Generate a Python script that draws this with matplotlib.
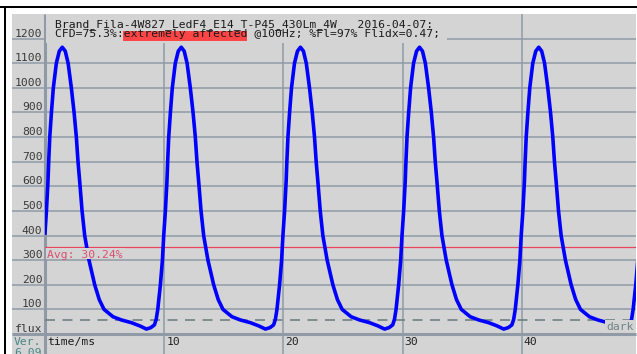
import matplotlib
matplotlib.use("Agg")
import matplotlib.pyplot as plt
from matplotlib.patches import Rectangle
from matplotlib.transforms import blended_transform_factory, offset_copy

# ---------------- data ----------------
time_ms = [
    0.00, 0.12, 0.25, 0.31, 0.40, 0.54, 0.70, 0.95, 1.20,
    1.45, 1.70, 1.94, 2.21, 2.44, 2.63, 2.77, 2.91, 3.11, 3.33, 3.69, 4.17, 4.55, 4.95, 5.71, 6.41, 7.25, 7.95, 8.51,
    8.88, 9.18, 9.33, 9.46, 9.68, 9.85, 9.96, 10.10, 10.23, 10.29, 10.38, 10.52, 10.68, 10.93, 11.18,
    11.43, 11.68, 11.92, 12.19, 12.42, 12.61, 12.75, 12.89, 13.09, 13.31, 13.67, 14.15, 14.53, 14.93, 15.69, 16.39, 17.23, 17.93, 18.49,
    18.88, 19.18, 19.33, 19.46, 19.68, 19.85, 19.96, 20.10, 20.23, 20.29, 20.38, 20.52, 20.68, 20.93, 21.18,
    21.43, 21.68, 21.92, 22.19, 22.42, 22.61, 22.75, 22.89, 23.09, 23.31, 23.67, 24.15, 24.53, 24.93, 25.69, 26.39, 27.23, 27.93, 28.49,
    28.87, 29.17, 29.32, 29.45, 29.67, 29.84, 29.95, 30.09, 30.22, 30.28, 30.37, 30.51, 30.67, 30.92, 31.17,
    31.42, 31.67, 31.91, 32.18, 32.41, 32.60, 32.74, 32.88, 33.08, 33.30, 33.66, 34.14, 34.52, 34.92, 35.68, 36.38, 37.22, 37.92, 38.48,
    38.87, 39.17, 39.32, 39.45, 39.67, 39.84, 39.95, 40.09, 40.22, 40.28, 40.37, 40.51, 40.67, 40.92, 41.17,
    41.42, 41.67, 41.91, 42.18, 42.41, 42.60, 42.74, 42.88, 43.08, 43.30, 43.66, 44.14, 44.52, 44.92, 45.68, 46.38, 47.22, 47.92, 48.48,
    48.76, 49.06, 49.21, 49.34, 49.56, 49.73,
]
flux = [
    410, 500, 620, 700, 800, 900, 1000, 1100, 1149,
    1165, 1149, 1100, 1000, 900, 800, 700, 620, 500, 400, 300, 200, 140, 100, 70, 57, 46, 33, 20,
    26, 37, 60, 100, 200, 300, 400, 500, 620, 700, 800, 900, 1000, 1100, 1149,
    1165, 1149, 1100, 1000, 900, 800, 700, 620, 500, 400, 300, 200, 140, 100, 70, 57, 46, 33, 20,
    26, 37, 60, 100, 200, 300, 400, 500, 620, 700, 800, 900, 1000, 1100, 1149,
    1165, 1149, 1100, 1000, 900, 800, 700, 620, 500, 400, 300, 200, 140, 100, 70, 57, 46, 33, 20,
    26, 37, 60, 100, 200, 300, 400, 500, 620, 700, 800, 900, 1000, 1100, 1149,
    1165, 1149, 1100, 1000, 900, 800, 700, 620, 500, 400, 300, 200, 140, 100, 70, 57, 46, 33, 20,
    26, 37, 60, 100, 200, 300, 400, 500, 620, 700, 800, 900, 1000, 1100, 1149,
    1165, 1149, 1100, 1000, 900, 800, 700, 620, 500, 400, 300, 200, 140, 100, 70, 57, 46, 33, 20,
    26, 37, 60, 100, 200, 300,
]
avg_level = 355
dark_level = 57
y_ticks = [100, 200, 300, 400, 500, 600, 700, 800, 900, 1000, 1100, 1200]
x_ticks = [10, 20, 30, 40]
title_line1 = "Brand_Fila-4W827_LedF4_E14_T-P45_430Lm_4W   2016-04-07:"
title_line2 = "CFD=75.3%:extremely affected @100Hz; %Fl=97% Flidx=0.47;"
avg_label = "Avg: 30.24%"

# ---------------- style ----------------
GRAY = "#d4d4d4"
GRID = "#8f9aa6"
FONT = "DejaVu Sans Mono"
FS = 8.2
W, H = 637, 354

fig = plt.figure(figsize=(W / 100, H / 100), dpi=100)
fig.patch.set_facecolor("white")

# background layer in pixel coordinates
bg = fig.add_axes([0, 0, 1, 1])
bg.set_xlim(0, W)
bg.set_ylim(H, 0)
bg.axis("off")
bg.add_patch(Rectangle((0, 5.5), W, 2.5, color="black", lw=0))
bg.add_patch(Rectangle((3.5, 5.5), 2, H, color="black", lw=0))
bg.add_patch(Rectangle((12, 14), 624, H, color=GRAY, lw=0))

# data axes
x0, y0 = 45, 334
ax = fig.add_axes([x0 / W, (H - y0) / H, 591 / W, 320 / H])
ax.patch.set_alpha(0)
ax.set_xlim(0, 591 / 11.92)
ax.set_ylim(0, 1300)
ax.axis("off")

ytrans = blended_transform_factory(ax.transAxes, ax.transData)
xtrans = blended_transform_factory(ax.transData, ax.transAxes)
left_ext = (12 - x0) / 591
bot_ext = -(H - y0) / 320

ax.hlines(y_ticks, left_ext, 1, transform=ytrans, color=GRID, lw=1.1, clip_on=False, zorder=1)
ax.vlines(x_ticks, bot_ext, 1, transform=xtrans, color=GRID, lw=1.1, clip_on=False, zorder=1)
ax.vlines([0], bot_ext, 1, transform=xtrans, color=GRID, lw=2.2, clip_on=False, zorder=2)
ax.hlines([0], left_ext, 1, transform=ytrans, color=GRID, lw=2.2, clip_on=False, zorder=2)

ax.axhline(avg_level, color="#e8445e", lw=0.9, zorder=3)
ax.axhline(dark_level, color="#6f8282", lw=1.2, dashes=(6, 4.5), zorder=3)

ax.plot(time_ms, flux, color="#0000ff", lw=2.6, solid_joinstyle="round", zorder=4)

# tick labels
ylab_tr = offset_copy(ytrans, fig=fig, x=0, y=2, units="dots")
for v in y_ticks:
    ax.text(-2.5 / 591, v, str(v), transform=ylab_tr, ha="right", va="baseline",
            family=FONT, fontsize=FS, color="#3a3a3a", clip_on=False)
xlab_tr = offset_copy(xtrans, fig=fig, x=2, y=0, units="dots")
for t in x_ticks:
    ax.text(t, -8 / 320, str(t), transform=xlab_tr, ha="left", va="center",
            family=FONT, fontsize=FS, color="#222222", clip_on=False)

# foreground overlay in pixel coordinates
fg = fig.add_axes([0, 0, 1, 1])
fg.patch.set_alpha(0)
fg.set_xlim(0, W)
fg.set_ylim(H, 0)
fg.axis("off")

fg.add_patch(Rectangle((45.5, 14), 401, 29, color=GRAY, lw=0, zorder=1))
fg.add_patch(Rectangle((123, 31), 124, 9.5, color="#ff4545", lw=0, zorder=1))
fg.text(55, 27, title_line1, family=FONT, fontsize=FS, color="#1a1a1a", va="baseline", zorder=2)
fg.text(55, 37, title_line2, family=FONT, fontsize=FS, color="#1a1a1a", va="baseline", zorder=2)

fg.add_patch(Rectangle((46, 248), 79, 11, color=GRAY, lw=0, zorder=1))
fg.text(47, 258, avg_label, family=FONT, fontsize=FS, color="#d9506e", va="baseline", zorder=2)

fg.add_patch(Rectangle((605, 320), 28, 12, color=GRAY, lw=0, zorder=1))
fg.text(606, 330, "dark", family=FONT, fontsize=FS, color="#6f8585", va="baseline", zorder=2)

fg.text(15, 332, "flux", family=FONT, fontsize=FS, color="#3a3a3a", va="baseline", zorder=2)
fg.text(47, 345, "time/ms", family=FONT, fontsize=FS, color="#1a1a1a", va="baseline", zorder=2)
fg.text(14, 345, "Ver.", family=FONT, fontsize=FS, color="#4a8585", va="baseline", zorder=2)
fg.text(14, 356, "6.09", family=FONT, fontsize=FS, color="#4a8585", va="baseline", zorder=2)

fig.savefig("out.png", dpi=100)
